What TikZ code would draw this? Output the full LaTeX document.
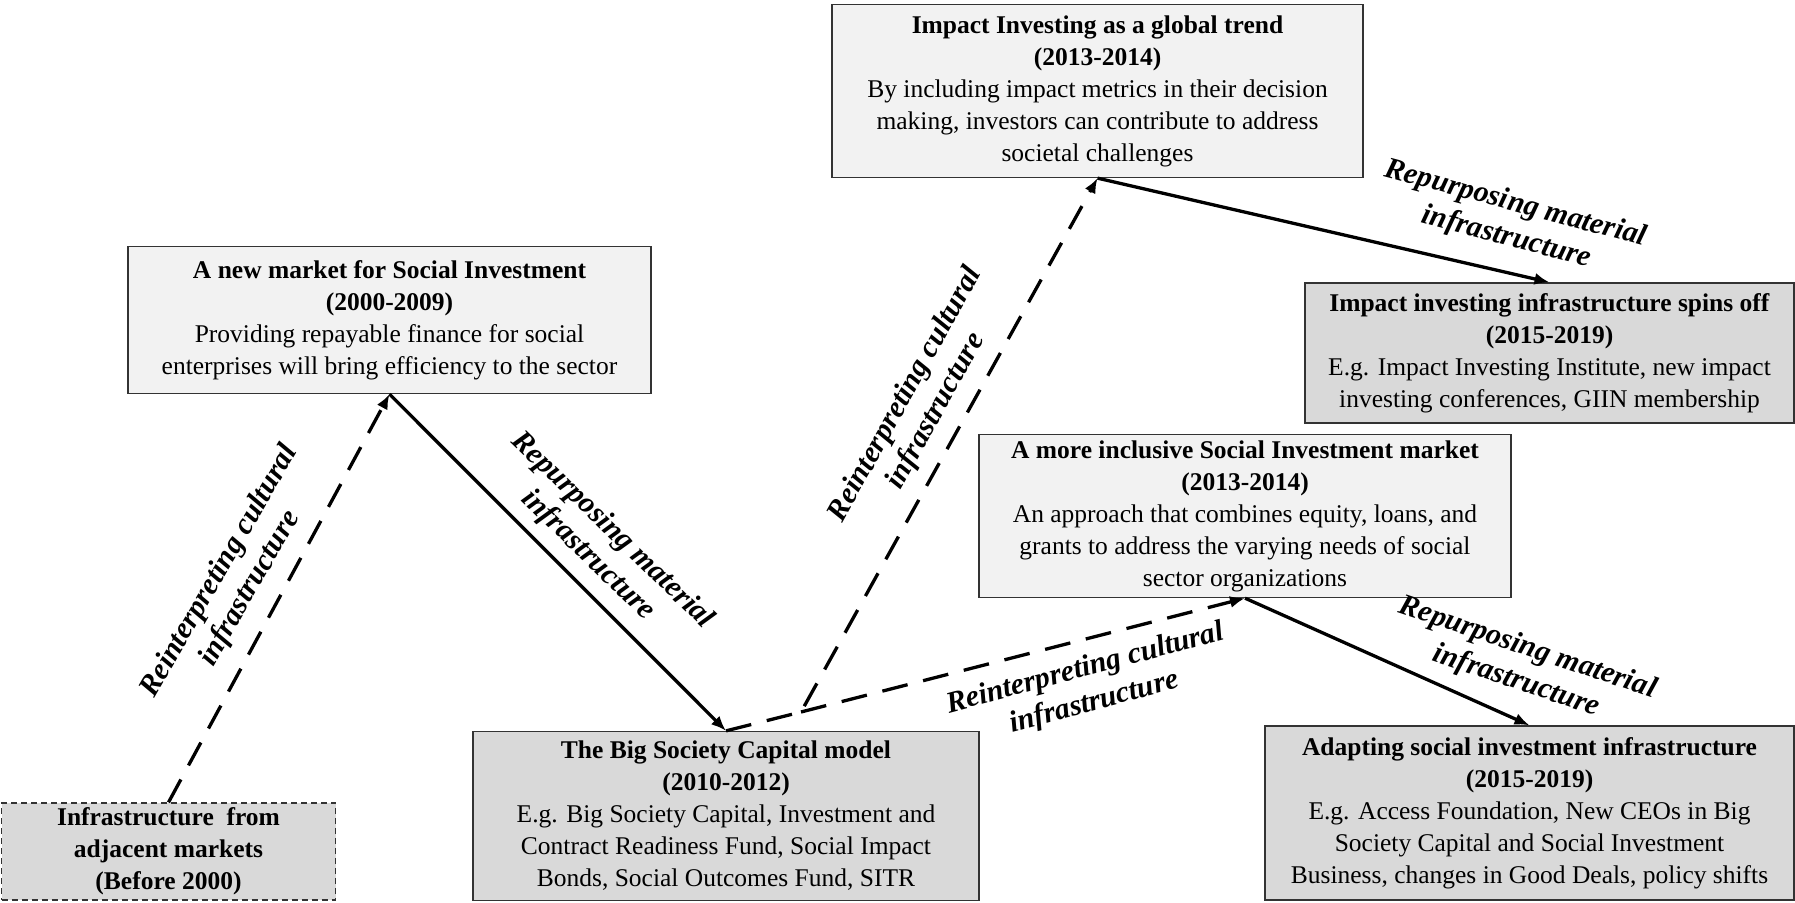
\documentclass[tikz,border=0pt]{standalone}
\usepackage{fontspec}
\setmainfont{Liberation Serif}
\usetikzlibrary{arrows.meta, positioning}

\begin{document}
\begin{tikzpicture}[x=1pt, y=-1pt,
  period/.style={draw=black!80, line width=1.3pt, inner sep=0pt, align=center,
    font=\fontsize{25.5}{32}\selectfont},
  idea/.style={period, fill=black!5},
  infra/.style={period, fill=black!15},
  cultural/.style={line width=3.3pt, dash pattern=on 26pt off 16pt,
    -{Latex[length=15pt,width=12pt]}},
  material/.style={line width=3.3pt, -{Latex[length=15pt,width=12pt]}},
  movelabel/.style={align=center, font=\fontsize{30}{35}\selectfont\bfseries\itshape}]

\useasboundingbox (0,0) rectangle (1795,902);

% Starting point
\node[infra, dash pattern=on 6pt off 4pt, minimum width=334pt, minimum height=97pt]
  (adjacent) at (168.5,851.5)
  {\textbf{Infrastructure\ \ from}\\ \textbf{adjacent markets}\\ \textbf{(Before 2000)}};

% Ideas (light boxes)
\node[idea, minimum width=523pt, minimum height=147pt] (newmarket) at (389.5,320)
  {\textbf{A new market for Social Investment}\\ \textbf{(2000-2009)}\\
   Providing repayable finance for social\\
   enterprises will bring efficiency to the sector};
\node[idea, minimum width=531pt, minimum height=173pt] (globaltrend) at (1097.5,91)
  {\textbf{Impact Investing as a global trend}\\ \textbf{(2013-2014)}\\
   By including impact metrics in their decision\\
   making, investors can contribute to address\\
   societal challenges};
\node[idea, minimum width=532pt, minimum height=163pt] (inclusive) at (1245,516)
  {\textbf{A more inclusive Social Investment market}\\ \textbf{(2013-2014)}\\
   An approach that combines equity, loans, and\\
   grants to address the varying needs of social\\
   sector organizations};

% Infrastructure (dark boxes)
\node[infra, minimum width=506pt, minimum height=169pt] (bsc) at (726,816)
  {\textbf{The Big Society Capital model}\\ \textbf{(2010-2012)}\\
   E.g. Big Society Capital, Investment and\\
   Contract Readiness Fund, Social Impact\\
   Bonds, Social Outcomes Fund, SITR};
\node[infra, minimum width=489pt, minimum height=140pt] (spinoff) at (1549.5,353)
  {\textbf{Impact investing infrastructure spins off}\\ \textbf{(2015-2019)}\\
   E.g. Impact Investing Institute, new impact\\
   investing conferences, GIIN membership};
\node[infra, minimum width=529pt, minimum height=174pt] (adapting) at (1529.5,813)
  {\textbf{Adapting social investment infrastructure}\\ \textbf{(2015-2019)}\\
   E.g. Access Foundation, New CEOs in Big\\
   Society Capital and Social Investment\\
   Business, changes in Good Deals, policy shifts};

% Connectors
\coordinate (fork) at (801,712);
\draw[cultural] (adjacent.north) -- (newmarket.south);
\draw[material] (newmarket.south) -- (bsc.north);
\draw[cultural] (bsc.north) -- (fork) -- (globaltrend.south);
\draw[cultural] (fork) -- (inclusive.south);
\draw[material] (globaltrend.south) -- (spinoff.north);
\draw[material] (inclusive.south) -- (adapting.north);

% Labels
\node[movelabel, rotate=60] (cult1) at (235,580) {Reinterpreting cultural\\infrastructure};
\node[movelabel, rotate=-44] (mat1) at (600,543) {Repurposing material\\infrastructure};
\node[movelabel, rotate=61] (cult2) at (921,403) {Reinterpreting cultural\\infrastructure};
\node[movelabel, rotate=-15] (mat2) at (1511,221) {Repurposing material\\infrastructure};
\node[movelabel, rotate=15] (cult3) at (1090,686) {Reinterpreting cultural\\infrastructure};
\node[movelabel, rotate=-18.5] (mat3) at (1522,665) {Repurposing material\\infrastructure};

\end{tikzpicture}
\end{document}
